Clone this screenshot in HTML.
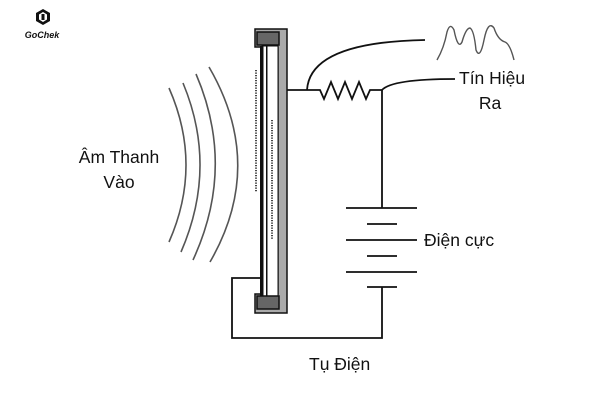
<!DOCTYPE html>
<html><head><meta charset="utf-8"><style>
body{margin:0;background:#fff;width:600px;height:400px;overflow:hidden;font-family:"Liberation Sans",sans-serif}
</style></head><body>
<svg width="600" height="400" xmlns="http://www.w3.org/2000/svg" font-family="Liberation Sans, sans-serif">
<rect width="600" height="400" fill="#fff"/>
<!-- logo -->
<polygon points="43,9 50,13 50,21 43,25 36,21 36,13" fill="#111"/>
<polygon points="43,12 47,14.5 47,19.5 43,22 39,19.5 39,14.5" fill="#fff"/>
<rect x="41.5" y="14" width="3" height="6" fill="#111"/>
<text x="42" y="38" font-size="9" font-weight="bold" font-style="italic" text-anchor="middle" fill="#111">GoChek</text>
<!-- sound arcs -->
<g fill="none" stroke="#555" stroke-width="1.6">
<path d="M169,88 Q203,165 169,242"/>
<path d="M183,83 Q218,167 181,252"/>
<path d="M196,74 Q236,167 193,260"/>
<path d="M209,67 Q266,165 210,262"/>
</g>
<!-- capacitor -->
<path d="M255,29 L287,29 L287,313 L255,313 L255,294 L278,294 L278,47 L255,47 Z" fill="#aaa" stroke="#111" stroke-width="1.5"/>
<rect x="262" y="46" width="16" height="250" fill="#fff" stroke="#111" stroke-width="1"/>
<rect x="260" y="46" width="3.5" height="250" fill="#111"/>
<rect x="266" y="46" width="1.5" height="250" fill="#111"/>
<rect x="257" y="32" width="22" height="13" fill="#666" stroke="#111" stroke-width="1.5"/>
<rect x="257" y="296" width="22" height="13" fill="#666" stroke="#111" stroke-width="1.5"/>
<g stroke="#444" stroke-width="2" stroke-dasharray="1.2,1.3">
<line x1="256" y1="70" x2="256" y2="192"/>
<line x1="272" y1="120" x2="272" y2="240"/>
</g>
<!-- wiring -->
<g fill="none" stroke="#111" stroke-width="1.8">
<path d="M287,90 L320,90 L324,99 L331,82 L338,99 L345,82 L352,99 L359,82 L366,99 L370,90 L382,90 L382,208"/>
<path d="M307,90 Q310,42 425,40"/>
<path d="M382,90 Q392,79 455,79"/>
<line x1="346" y1="208" x2="417" y2="208"/>
<line x1="367" y1="224" x2="397" y2="224"/>
<line x1="346" y1="240" x2="417" y2="240"/>
<line x1="367" y1="256" x2="397" y2="256"/>
<line x1="346" y1="272" x2="417" y2="272"/>
<line x1="367" y1="287" x2="397" y2="287"/>
<path d="M382,287 L382,338 L232,338 L232,278 L260,278"/>
</g>
<path d="M437,60 Q444,48 447,32 Q450,22 454,30 Q458,50 462,42 Q466,28 470,28 Q474,30 476,50 Q480,60 484,40 Q488,20 494,28 Q498,40 505,42 Q510,44 514,60" fill="none" stroke="#555" stroke-width="1.4"/>
<g font-size="17.5" fill="#111">
<text x="119" y="163" text-anchor="middle">Âm Thanh</text>
<text x="119" y="188" text-anchor="middle">Vào</text>
<text x="459" y="84">Tín Hiệu</text>
<text x="490" y="109" text-anchor="middle">Ra</text>
<text x="424" y="246">Điện cực</text>
<text x="309" y="370">Tụ Điện</text>
</g>
</svg>
</body></html>
